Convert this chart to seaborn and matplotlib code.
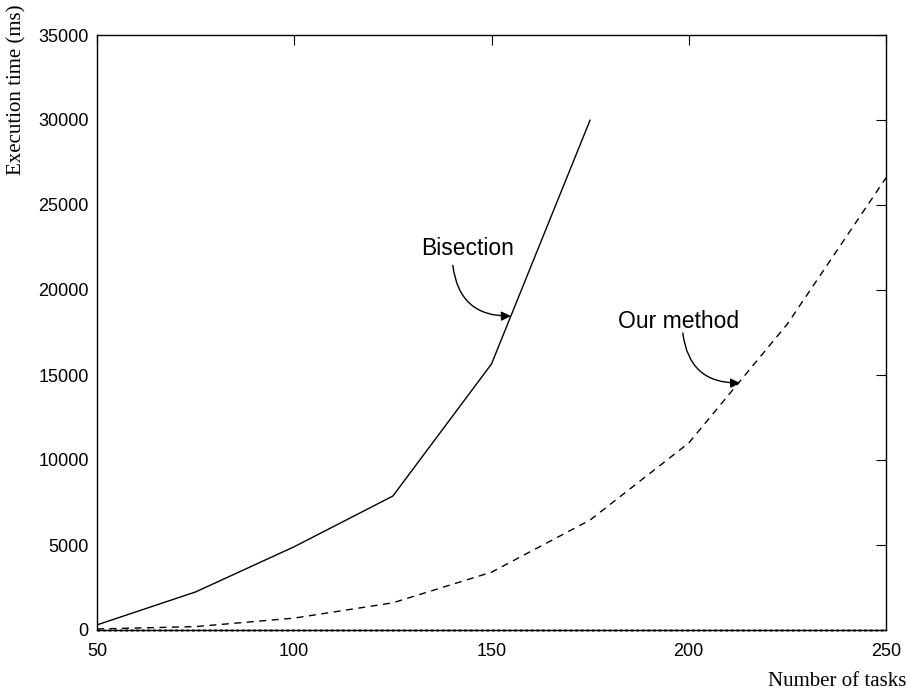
import numpy as np
import pandas as pd
import matplotlib
matplotlib.use('Agg')
import matplotlib.pyplot as plt
import seaborn as sns

# values
tasks_bisection = [50, 75, 100, 125, 150, 175]
time_bisection = [300, 2240, 4900, 7880, 15650, 30000]
tasks_ours = [50, 75, 100, 125, 150, 175, 200, 225, 250]
time_ours = [60, 200, 700, 1600, 3400, 6470, 11000, 18000, 26600]
tasks_floor = [50, 100, 150, 200, 250]
time_floor = [0, 0, 0, 0, 0]

sns.set_style('white', {'text.color': 'black', 'xtick.color': 'black',
                        'ytick.color': 'black', 'axes.labelcolor': 'black'})
plt.rcParams['font.family'] = ['Liberation Sans', 'DejaVu Sans']

fig = plt.figure(figsize=(9.1, 6.94), dpi=100)
ax = fig.add_axes([97 / 910, 64 / 694, 789 / 910, 595 / 694])

df_b = pd.DataFrame({'tasks': tasks_bisection, 'time': time_bisection})
df_o = pd.DataFrame({'tasks': tasks_ours, 'time': time_ours})
df_f = pd.DataFrame({'tasks': tasks_floor, 'time': time_floor})

sns.lineplot(data=df_f, x='tasks', y='time', ax=ax, color='#777777',
             linewidth=2, linestyle=(0, (1, 1)), clip_on=False)
sns.lineplot(data=df_b, x='tasks', y='time', ax=ax, color='black', linewidth=1)
sns.lineplot(data=df_o, x='tasks', y='time', ax=ax, color='black', linewidth=1,
             linestyle=(0, (5, 4)))

ax.set_xlim(50, 250)
ax.set_ylim(0, 35000)
ax.set_xticks([50, 100, 150, 200, 250])
ax.set_yticks(np.arange(0, 35001, 5000))
ax.tick_params(direction='in', length=7, width=0.8, labelsize=13,
               colors='black', top=True, right=True, pad=6)
ax.tick_params(axis='x', pad=9)
for s in ax.spines.values():
    s.set_color('black')
    s.set_linewidth(1)

ax.set_xlabel('')
ax.set_ylabel('')
fig.text(0.996, 0.005, 'Number of tasks', ha='right', va='bottom',
         family='Liberation Serif', fontsize=15, color='black')
fig.text(0.018, 0.993, 'Execution time (ms)', ha='center', va='top',
         rotation=90, family='Liberation Serif', fontsize=15, color='black')

# labels and curved arrows
ax.text(144, 22450, 'Bisection', fontsize=16.5, ha='center', va='center',
        color='black')
ax.annotate('', xy=(154.9, 18470), xytext=(140.2, 21450),
            arrowprops=dict(arrowstyle='-|>', color='black', lw=1,
                            connectionstyle='arc3,rad=0.45',
                            shrinkA=0, shrinkB=0, mutation_scale=14))
ax.text(197.3, 18150, 'Our method', fontsize=16.5, ha='center', va='center',
        color='black')
ax.annotate('', xy=(213.0, 14530), xytext=(198.5, 17470),
            arrowprops=dict(arrowstyle='-|>', color='black', lw=1,
                            connectionstyle='arc3,rad=0.45',
                            shrinkA=0, shrinkB=0, mutation_scale=14))

fig.savefig('out.png', dpi=100)
